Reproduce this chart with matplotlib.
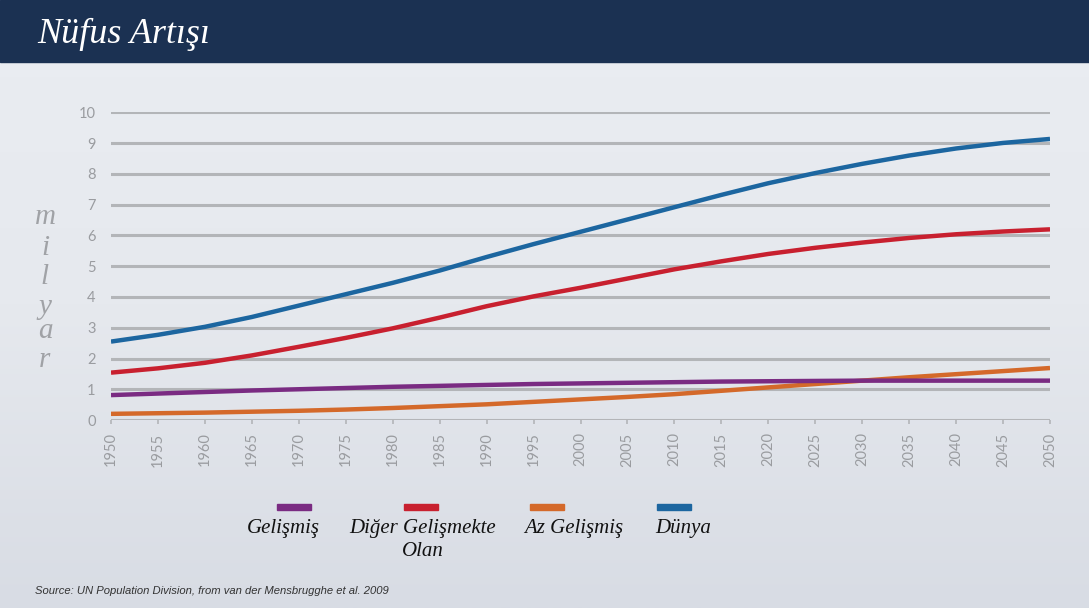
import matplotlib
matplotlib.use("Agg")
import matplotlib.pyplot as plt
import numpy as np
from matplotlib.patches import Rectangle
from matplotlib.colors import LinearSegmentedColormap

years = list(range(1950, 2051, 5))
gelismis = [0.81, 0.86, 0.91, 0.96, 1.00, 1.04, 1.08, 1.11, 1.14, 1.17, 1.19,
            1.21, 1.23, 1.25, 1.26, 1.27, 1.28, 1.28, 1.28, 1.28, 1.28]
diger = [1.54, 1.68, 1.86, 2.10, 2.38, 2.67, 2.98, 3.33, 3.70, 4.02, 4.30,
         4.60, 4.90, 5.16, 5.40, 5.60, 5.77, 5.92, 6.04, 6.13, 6.20]
az_gelismis = [0.20, 0.22, 0.24, 0.27, 0.30, 0.34, 0.39, 0.45, 0.51, 0.59, 0.67,
               0.75, 0.84, 0.95, 1.06, 1.17, 1.28, 1.39, 1.49, 1.59, 1.69]
dunya = [2.55, 2.77, 3.03, 3.35, 3.72, 4.09, 4.46, 4.86, 5.30, 5.72, 6.12,
         6.52, 6.92, 7.32, 7.70, 8.03, 8.33, 8.60, 8.83, 9.01, 9.14]
y_ticks = list(range(0, 11))
series_names = ["Gelişmiş", "Diğer Gelişmekte\nOlan", "Az Gelişmiş", "Dünya"]
series_colors = ["#7a2b82", "#c8202f", "#d4692a", "#1c66a0"]

W, H = 1089, 608
fig = plt.figure(figsize=(W / 100, H / 100), dpi=100)

# background gradient
bg = fig.add_axes([0, 0, 1, 1], zorder=-10)
bg.axis("off")
grad = np.linspace(0, 1, 256).reshape(-1, 1)
cmap = LinearSegmentedColormap.from_list("bg", ["#eaedf2", "#e6e9ee", "#d8dce4"])
bg.imshow(grad, aspect="auto", cmap=cmap, extent=[0, 1, 0, 1], origin="upper")
bg.set_xlim(0, 1)
bg.set_ylim(0, 1)
# header
fig.patches.append(Rectangle((0, 1 - 62 / H), 1, 62 / H, transform=fig.transFigure,
                             color="#1b3152", zorder=0))
fig.text(37 / W, 1 - 34 / H, "Nüfus Artışı", color="white", fontsize=26,
         family="Liberation Serif", style="italic", va="center", ha="left")

ax = fig.add_axes([111 / W, 1 - 420 / H, (1050 - 111) / W, (420 - 112.5) / H])
ax.set_facecolor("none")
for s in ax.spines.values():
    s.set_visible(False)
ax.set_xlim(1950, 2050)
ax.set_ylim(0, 10)
ax.set_yticks(y_ticks)
ax.set_xticks(years)
ax.set_xticklabels([str(y) for y in years], rotation=90)
for yv in y_ticks:
    ax.axhline(yv, color="#b3b5b8", lw=2.2, zorder=1)
ax.tick_params(axis="y", length=0, pad=11, labelsize=10.5, labelcolor="#9a9ca0")
ax.tick_params(axis="x", length=3, width=1.2, color="#b3b5b8", pad=6,
               labelsize=10.5, labelcolor="#9a9ca0")
for lab in ax.get_xticklabels() + ax.get_yticklabels():
    lab.set_family("Lato")

ax.plot(years, dunya, color=series_colors[3], lw=3.2, zorder=5, solid_capstyle="butt")
ax.plot(years, diger, color=series_colors[1], lw=3.2, zorder=5, solid_capstyle="butt")
ax.plot(years, az_gelismis, color=series_colors[2], lw=3.2, zorder=5, solid_capstyle="butt")
ax.plot(years, gelismis, color=series_colors[0], lw=3.2, zorder=5, solid_capstyle="butt")

# y label stacked letters
for ch, ypx in zip("milyar", [217, 248, 277, 307, 331, 360]):
    fig.text(45 / W, 1 - ypx / H, ch, fontsize=21, family="Liberation Serif",
             style="italic", color="#a0a2a6", ha="center", va="center")

# legend
patch_x = [294, 421, 547, 674]
text_x = [283, 423, 574, 683]
for name, col, px, tx in zip(series_names, series_colors, patch_x, text_x):
    fig.patches.append(Rectangle((px / W - 17 / W, 1 - 510 / H), 34 / W, 6 / H,
                                 transform=fig.transFigure, color=col))
    fig.text(tx / W, 1 - 519 / H, name, fontsize=15, family="Liberation Serif",
             style="italic", color="#111111", ha="center", va="top",
             linespacing=1.25, multialignment="center")

fig.text(35 / W, 1 - 591 / H,
         "Source: UN Population Division, from van der Mensbrugghe et al. 2009",
         fontsize=8.15, family="Liberation Sans", style="italic", color="#333333",
         ha="left", va="center")

fig.savefig("out.png", dpi=100)
